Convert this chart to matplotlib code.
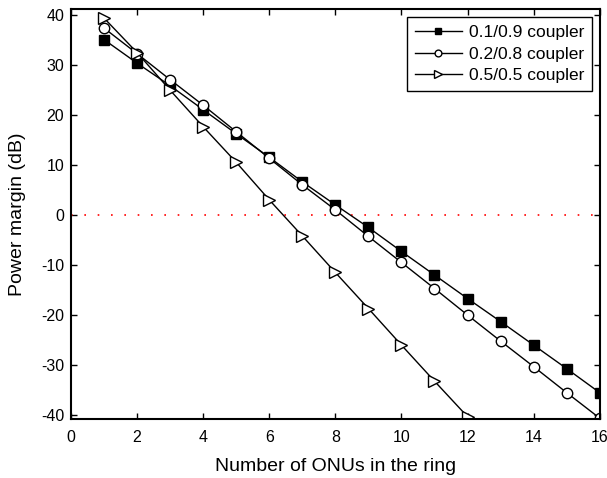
import numpy as np
import matplotlib
matplotlib.use("Agg")
import matplotlib.pyplot as plt

plt.rcParams['font.family'] = ['Liberation Sans', 'DejaVu Sans']
plt.rcParams['axes.unicode_minus'] = False

onus = [1, 2, 3, 4, 5, 6, 7, 8, 9, 10, 11, 12, 13, 14, 15, 16]
c19 = [35.0, 30.3, 25.8, 21.0, 16.2, 11.5, 6.6, 2.0, -2.5, -7.3, -12.0, -16.7, -21.3, -26.0, -30.7, -35.5]
c28 = [37.3, 32.2, 27.0, 21.9, 16.6, 11.3, 6.0, 1.0, -4.3, -9.5, -14.7, -20.0, -25.2, -30.3, -35.5, -40.6]
onus55 = [1, 2, 3, 4, 5, 6, 7, 8, 9, 10, 11, 12]
c55 = [39.3, 32.4, 24.9, 17.6, 10.5, 3.0, -4.2, -11.5, -18.7, -26.0, -33.2, -40.3]

fig = plt.figure(figsize=(6.07, 4.78), dpi=100)
ax = fig.add_axes([0.117, 0.123, 0.871, 0.858])

ax.plot([0, 16], [0, 0], color='red', lw=1.2, linestyle=(0, (1, 7)))
ax.plot(onus, c19, '-s', color='black', mfc='black', ms=6.5, lw=1, label='0.1/0.9 coupler')
ax.plot(onus, c28, '-o', color='black', mfc='white', ms=7.5, lw=1, label='0.2/0.8 coupler')
ax.plot(onus55, c55, '->', color='black', mfc='white', ms=9, lw=1, label='0.5/0.5 coupler')

ax.set_xlim(0, 16)
ax.set_ylim(-40.8, 41.1)
ax.set_xticks(range(0, 17, 2))
ax.set_yticks(range(-40, 41, 10))
ax.tick_params(direction='in', top=True, right=True, labelsize=11.5, length=4, width=1)
ax.tick_params(axis='x', pad=8)
ax.tick_params(axis='y', pad=5)
for s in ax.spines.values():
    s.set_linewidth(1.5)
ax.set_xlabel('Number of ONUs in the ring', fontsize=14, labelpad=9)
ax.set_ylabel('Power margin (dB)', fontsize=14, labelpad=10.5)

leg = ax.legend(loc='upper right', fontsize=12.5, fancybox=False, edgecolor='black',
                framealpha=1, handlelength=2.7, handletextpad=0.4, borderaxespad=0.45,
                labelspacing=0.38, markerscale=0.65, borderpad=0.45)
leg.get_frame().set_linewidth(1)

fig.savefig('out.png', dpi=100)
